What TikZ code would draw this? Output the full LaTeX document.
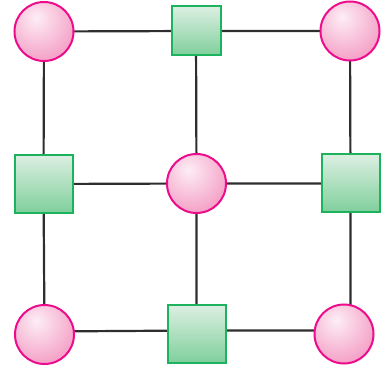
\documentclass[tikz,border=0pt]{standalone}
\usetikzlibrary{backgrounds}
\definecolor{pinkhi}{HTML}{FDEEF5}
\definecolor{pinkmid}{HTML}{F5A8CB}
\definecolor{pinkedge}{HTML}{EE6FA8}
\definecolor{pinkline}{HTML}{EC0C8C}
\definecolor{greentop}{HTML}{DCEFE2}
\definecolor{greenbot}{HTML}{7FCF9B}
\definecolor{greenline}{HTML}{1DB35E}
\definecolor{wire}{HTML}{2E2E2E}
\pgfdeclareradialshading{pinkball}{\pgfpoint{-7bp}{12bp}}{color(0bp)=(pinkhi); color(30bp)=(pinkmid); color(62bp)=(pinkedge); color(100bp)=(pinkedge)}
\tikzset{
  ballnode/.style={circle, minimum size=59pt, inner sep=0pt, draw=pinkline, line width=2pt, shading=pinkball},
  boxnode/.style={rectangle, minimum width=#1, minimum height=#1, inner sep=0pt, draw=greenline, line width=2pt, top color=greentop, bottom color=greenbot},
  boxnode/.default=58pt,
  wireline/.style={draw=wire, line width=2.2pt}
}
\begin{document}
\begin{tikzpicture}[x=1pt,y=-1pt]
\useasboundingbox (0,0) rectangle (383,371);
\node[ballnode] (tl) at (44,31.5) {};
\node[boxnode=49pt] (tm) at (196,31) {};
\node[ballnode] (tr) at (350,31) {};
\node[boxnode] (ml) at (43.5,184) {};
\node[ballnode] (mm) at (196.5,183.5) {};
\node[boxnode] (mr) at (350.5,183.5) {};
\node[ballnode] (bl) at (44.5,334.5) {};
\node[boxnode] (bm) at (197,334) {};
\node[ballnode] (br) at (344,334) {};
\begin{scope}[on background layer]
\path[wireline] (tl.center) -- (tm.center) -- (tr.center);
\path[wireline] (ml.center) -- (mm.center) -- (mr.center);
\path[wireline] ([yshift=3pt]bl.center) -- ([yshift=3.5pt]bm.center) -- ([yshift=3.5pt]br.center);
\path[wireline] (tl.center) -- (ml.center) -- (bl.center);
\path[wireline] (tm.center) -- (mm.center) -- (mm |- bm);
\path[wireline] (tr.center) -- (mr.center) -- (mr |- br);
\end{scope}
\end{tikzpicture}
\end{document}
